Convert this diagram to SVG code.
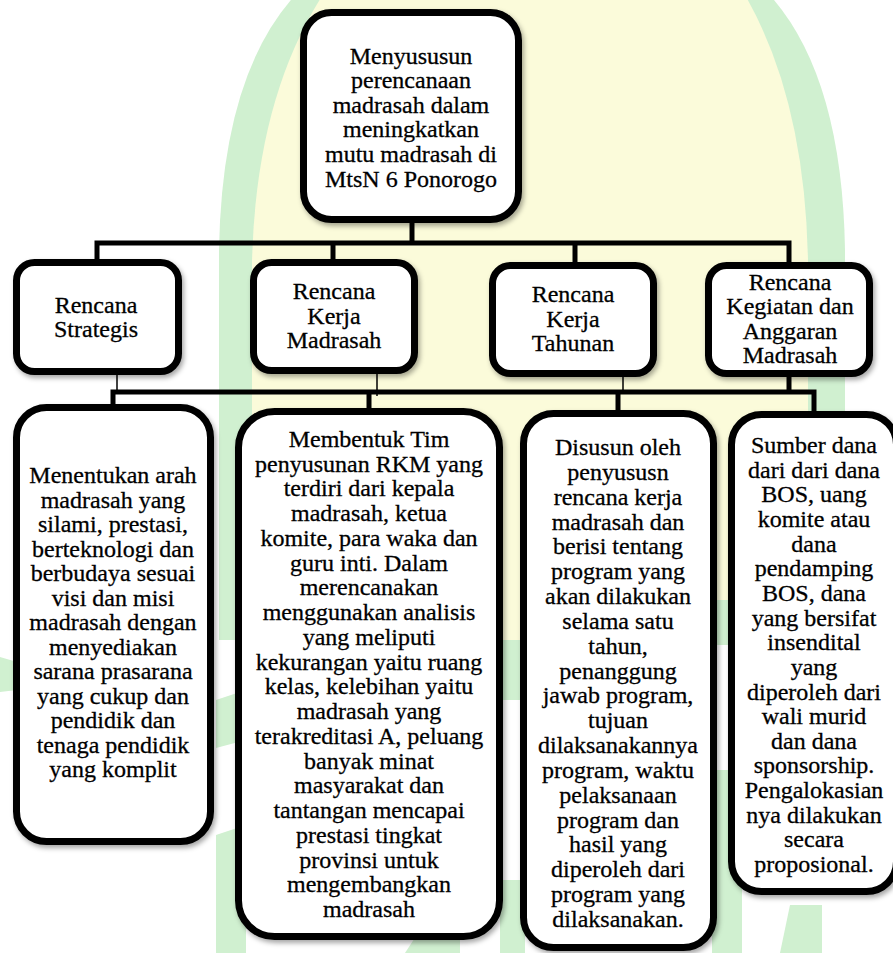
<svg xmlns="http://www.w3.org/2000/svg" width="893" height="953" viewBox="0 0 893 953">
  <defs>
    <filter id="sh" x="-10%" y="-10%" width="130%" height="130%">
      <feDropShadow dx="2" dy="3" stdDeviation="2.5" flood-color="#000" flood-opacity="0.35"/>
    </filter>
    <style>
      .box { fill: #ffffff; stroke: #000000; stroke-width: 7; filter: url(#sh); }
      .t { font-family: "Liberation Serif", "Times New Roman", serif; font-size: 24px; fill: #000000; stroke: #000000; stroke-width: 0.3; text-anchor: middle; }
      .bus { fill: none; stroke: #000000; stroke-width: 5; stroke-linejoin: miter; }
      .tick { fill: none; stroke: #000000; stroke-width: 1.5; }
      .wg { fill: #d0f0d0; }
      .wy { fill: #fbfbda; }
    </style>
  </defs>

  <rect x="0" y="0" width="893" height="953" fill="#ffffff"/>

  <g id="watermark">
    <path class="wg" d="M219,640 V250 Q222,70 300,-10 H765 Q842,70 845,250 V640 Z"/>
    <path class="wy" d="M252,640 V262 Q256,95 326,-10 H742 Q805,95 808,262 V640 Z"/>
    <polygon class="wg" points="216,700 246,690 246,740 216,748"/>
    <polygon class="wg" points="216,835 246,825 246,953 216,953"/>
    <polygon class="wg" points="0,657 17,662 17,690 0,692"/>
    <polygon class="wg" points="405,953 420,930 460,930 460,953"/>
    <polygon class="wg" points="780,953 790,905 822,905 822,953"/>
    <rect class="wg" x="712" y="600" width="30" height="45"/>
    <rect class="wg" x="712" y="770" width="30" height="183"/>
    <rect class="wg" x="500" y="640" width="25" height="60"/>
    <rect class="wg" x="500" y="880" width="25" height="73"/>
  </g>

  <g id="connectors">
    <path class="bus" d="M412,222 V243"/>
    <path class="bus" d="M97,262 V243 H789 V265"/>
    <path class="bus" d="M333,243 V262"/>
    <path class="bus" d="M575,243 V265"/>
    <path class="tick" d="M117,374 V390"/>
    <path class="tick" d="M377,373 V396"/>
    <path class="tick" d="M623,368 V391"/>
    <path class="bus" d="M789,376 V392"/>
    <path class="bus" d="M113,406 V392 H814 V412"/>
    <path class="bus" d="M369,392 V410"/>
    <path class="bus" d="M618,392 V412"/>
  </g>

  <g id="root">
    <rect class="box" x="303.5" y="12.5" width="215" height="207" rx="28"/>
    <text class="t" x="411" y="63.5">Menyususun<tspan x="411" dy="24.6">perencanaan</tspan><tspan x="411" dy="24.6">madrasah dalam</tspan><tspan x="411" dy="24.6">meningkatkan</tspan><tspan x="411" dy="24.6">mutu madrasah di</tspan><tspan x="411" dy="24.6">MtsN 6 Ponorogo</tspan></text>
  </g>

  <g id="renstra">
    <rect class="box" x="16.5" y="262.5" width="162" height="109" rx="18"/>
    <text class="t" x="96" y="312.5">Rencana<tspan x="96" dy="24">Strategis</tspan></text>
  </g>

  <g id="rkm">
    <rect class="box" x="253.5" y="262.5" width="161" height="108" rx="18"/>
    <text class="t" x="334" y="299">Rencana<tspan x="334" dy="24.5">Kerja</tspan><tspan x="334" dy="24.5">Madrasah</tspan></text>
  </g>

  <g id="rkt">
    <rect class="box" x="492.5" y="265.5" width="161" height="108" rx="18"/>
    <text class="t" x="573" y="302">Rencana<tspan x="573" dy="24.5">Kerja</tspan><tspan x="573" dy="24.5">Tahunan</tspan></text>
  </g>

  <g id="rkam">
    <rect class="box" x="708.5" y="265.5" width="161" height="108" rx="18"/>
    <text class="t" x="790" y="290">Rencana<tspan x="790" dy="24.4">Kegiatan dan</tspan><tspan x="790" dy="24.4">Anggaran</tspan><tspan x="790" dy="24.4">Madrasah</tspan></text>
  </g>

  <g id="desc-renstra">
    <rect class="box" x="16.5" y="407.5" width="194" height="434" rx="30"/>
    <text class="t" x="113" y="483">Menentukan arah<tspan x="113" dy="24.5">madrasah yang</tspan><tspan x="113" dy="24.5">silami, prestasi,</tspan><tspan x="113" dy="24.5">berteknologi dan</tspan><tspan x="113" dy="24.5">berbudaya sesuai</tspan><tspan x="113" dy="24.5">visi dan misi</tspan><tspan x="113" dy="24.5">madrasah dengan</tspan><tspan x="113" dy="24.5">menyediakan</tspan><tspan x="113" dy="24.5">sarana prasarana</tspan><tspan x="113" dy="24.5">yang cukup dan</tspan><tspan x="113" dy="24.5">pendidik dan</tspan><tspan x="113" dy="24.5">tenaga pendidik</tspan><tspan x="113" dy="24.5">yang komplit</tspan></text>
  </g>

  <g id="desc-rkm">
    <rect class="box" x="238.5" y="411.5" width="261" height="525" rx="36"/>
    <text class="t" x="369" y="447">Membentuk Tim<tspan x="369" dy="24.74">penyusunan RKM yang</tspan><tspan x="369" dy="24.74">terdiri dari kepala</tspan><tspan x="369" dy="24.74">madrasah, ketua</tspan><tspan x="369" dy="24.74">komite, para waka dan</tspan><tspan x="369" dy="24.74">guru inti. Dalam</tspan><tspan x="369" dy="24.74">merencanakan</tspan><tspan x="369" dy="24.74">menggunakan analisis</tspan><tspan x="369" dy="24.74">yang meliputi</tspan><tspan x="369" dy="24.74">kekurangan yaitu ruang</tspan><tspan x="369" dy="24.74">kelas, kelebihan yaitu</tspan><tspan x="369" dy="24.74">madrasah yang</tspan><tspan x="369" dy="24.74">terakreditasi A, peluang</tspan><tspan x="369" dy="24.74">banyak minat</tspan><tspan x="369" dy="24.74">masyarakat dan</tspan><tspan x="369" dy="24.74">tantangan mencapai</tspan><tspan x="369" dy="24.74">prestasi tingkat</tspan><tspan x="369" dy="24.74">provinsi untuk</tspan><tspan x="369" dy="24.74">mengembangkan</tspan><tspan x="369" dy="24.74">madrasah</tspan></text>
  </g>

  <g id="desc-rkt">
    <rect class="box" x="523.5" y="413.5" width="190" height="534" rx="30"/>
    <text class="t" x="618" y="455">Disusun oleh<tspan x="618" dy="24.84">penyususn</tspan><tspan x="618" dy="24.84">rencana kerja</tspan><tspan x="618" dy="24.84">madrasah dan</tspan><tspan x="618" dy="24.84">berisi tentang</tspan><tspan x="618" dy="24.84">program yang</tspan><tspan x="618" dy="24.84">akan dilakukan</tspan><tspan x="618" dy="24.84">selama satu</tspan><tspan x="618" dy="24.84">tahun,</tspan><tspan x="618" dy="24.84">penanggung</tspan><tspan x="618" dy="24.84">jawab program,</tspan><tspan x="618" dy="24.84">tujuan</tspan><tspan x="618" dy="24.84">dilaksanakannya</tspan><tspan x="618" dy="24.84">program, waktu</tspan><tspan x="618" dy="24.84">pelaksanaan</tspan><tspan x="618" dy="24.84">program dan</tspan><tspan x="618" dy="24.84">hasil yang</tspan><tspan x="618" dy="24.84">diperoleh dari</tspan><tspan x="618" dy="24.84">program yang</tspan><tspan x="618" dy="24.84">dilaksanakan.</tspan></text>
  </g>

  <g id="desc-rkam">
    <rect class="box" x="731.5" y="414.5" width="165" height="477" rx="30"/>
    <text class="t" x="814" y="453">Sumber dana<tspan x="814" dy="24.65">dari dari dana</tspan><tspan x="814" dy="24.65">BOS, uang</tspan><tspan x="814" dy="24.65">komite atau</tspan><tspan x="814" dy="24.65">dana</tspan><tspan x="814" dy="24.65">pendamping</tspan><tspan x="814" dy="24.65">BOS, dana</tspan><tspan x="814" dy="24.65">yang bersifat</tspan><tspan x="814" dy="24.65">insendital</tspan><tspan x="814" dy="24.65">yang</tspan><tspan x="814" dy="24.65">diperoleh dari</tspan><tspan x="814" dy="24.65">wali murid</tspan><tspan x="814" dy="24.65">dan dana</tspan><tspan x="814" dy="24.65">sponsorship.</tspan><tspan x="814" dy="24.65">Pengalokasian</tspan><tspan x="814" dy="24.65">nya dilakukan</tspan><tspan x="814" dy="24.65">secara</tspan><tspan x="814" dy="24.65">proposional.</tspan></text>
  </g>
</svg>
